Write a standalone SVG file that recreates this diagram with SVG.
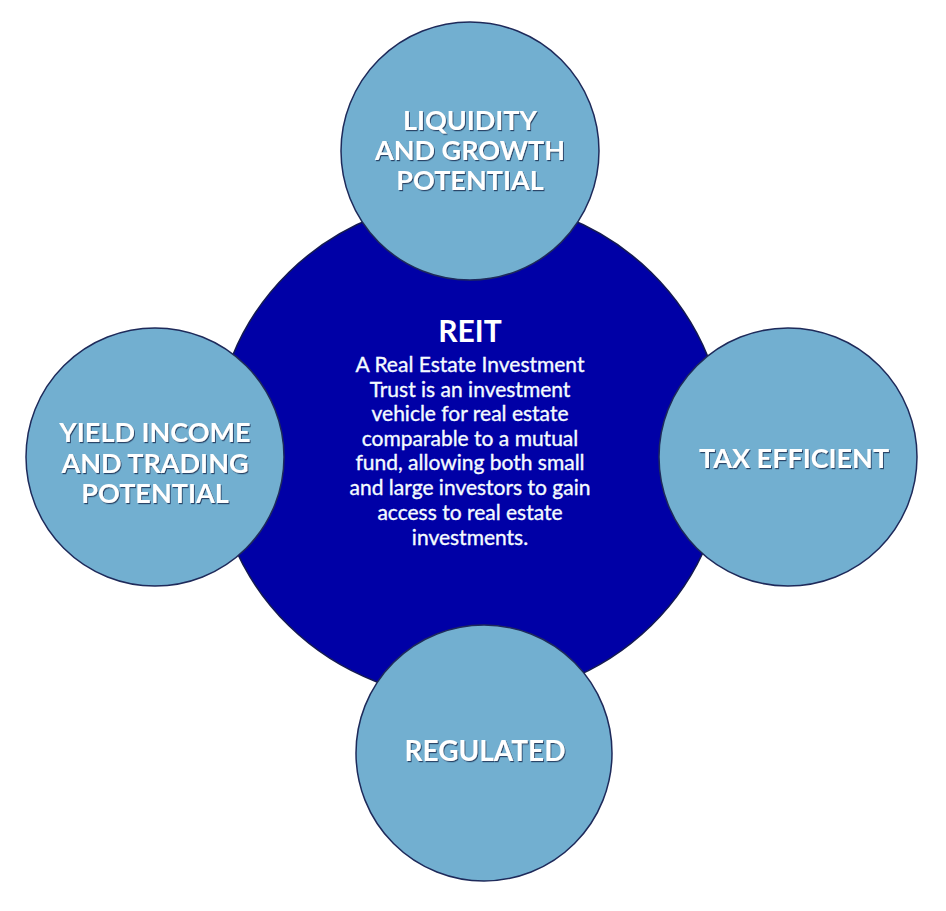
<svg xmlns="http://www.w3.org/2000/svg" width="946" height="911" viewBox="0 0 946 911">
<defs>
<filter id="sh" x="-10%" y="-10%" width="120%" height="130%">
<feDropShadow dx="1" dy="1.2" stdDeviation="0.6" flood-color="#1a2a50" flood-opacity="0.8"/>
</filter>
<style>
.sat{fill:#72AFD0;stroke:#1E2A5A;stroke-width:1.5}
.hub{fill:#0000A6;stroke:#141a50;stroke-width:1.5}
.lbl{font-family:Lato,"Open Sans","Liberation Sans",sans-serif;font-weight:700;font-size:27px;fill:#ffffff;text-anchor:middle;filter:url(#sh)}
.ttl{font-family:Lato,"Open Sans","Liberation Sans",sans-serif;font-weight:700;font-size:30px;fill:#ffffff;text-anchor:middle}
.body{font-family:Lato,"Open Sans","Liberation Sans",sans-serif;font-weight:400;font-size:21px;fill:#f4fbff;stroke:#f4fbff;stroke-width:0.35;text-anchor:middle}
</style>
</defs>
<rect width="946" height="911" fill="#ffffff"/>
<g id="connectors"></g>
<g id="reit">
<ellipse class="hub" cx="470" cy="449" rx="256" ry="250"/>
<text class="ttl" x="470" y="342">REIT</text>
<text class="body" x="470" y="372">A Real Estate Investment</text>
<text class="body" x="470" y="397">Trust is an investment</text>
<text class="body" x="470" y="421">vehicle for real estate</text>
<text class="body" x="470" y="446">comparable to a mutual</text>
<text class="body" x="470" y="470">fund, allowing both small</text>
<text class="body" x="470" y="495">and large investors to gain</text>
<text class="body" x="470" y="520">access to real estate</text>
<text class="body" x="470" y="545">investments.</text>
</g>
<g id="liquidity">
<circle class="sat" cx="470" cy="151" r="129"/>
<text class="lbl" x="470" y="130">LIQUIDITY</text>
<text class="lbl" x="470" y="160">AND GROWTH</text>
<text class="lbl" x="470" y="190">POTENTIAL</text>
</g>
<g id="yield">
<circle class="sat" cx="155" cy="457" r="129"/>
<text class="lbl" x="155" y="442">YIELD INCOME</text>
<text class="lbl" x="155" y="473">AND TRADING</text>
<text class="lbl" x="155" y="503">POTENTIAL</text>
</g>
<g id="tax">
<circle class="sat" cx="788" cy="457" r="129"/>
<text class="lbl" x="794" y="468">TAX EFFICIENT</text>
</g>
<g id="regulated">
<circle class="sat" cx="484" cy="753" r="128"/>
<text class="lbl" x="485" y="761" style="font-size:28px">REGULATED</text>
</g>
</svg>
